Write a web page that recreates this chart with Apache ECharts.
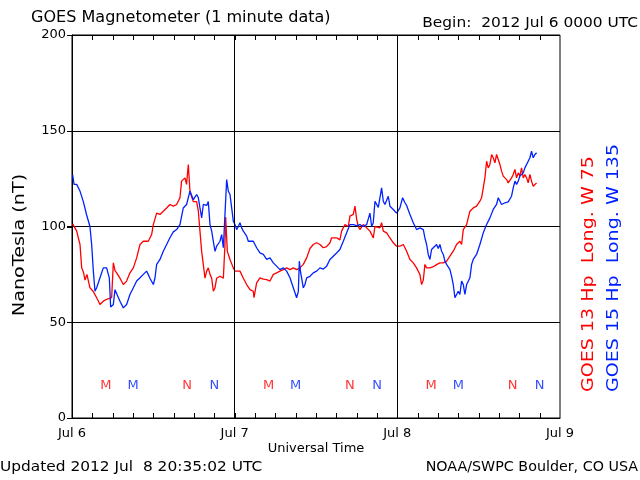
<!DOCTYPE html>
<html>
<head>
<meta charset="utf-8">
<script src="https://cdn.jsdelivr.net/npm/echarts@6/dist/echarts.min.js"></script>
<style>html,body{margin:0;padding:0;background:#fff}#c{width:640px;height:480px}</style>
</head>
<body>
<div id="c"></div>
<script>
// Hours since 2012 Jul 6 00:00 UTC, values in nT
var goes13 = [
[0.1,101.4],[0.69,97.6],[1.18,90.6],[1.43,78.4],[1.7,76],[1.92,72],[2.2,75],[2.65,68],[3.15,66],[3.64,62.8],[4.13,59.3],[4.62,61],[5.11,62],[5.85,62.8],[6.1,81],[6.35,77],[6.59,75.8],[7.08,73],[7.57,69.7],[8.06,71.5],[8.55,75.8],[9.05,78.4],[9.54,83.6],[10.03,90.6],[10.52,92.3],[11.26,92.3],[11.75,95.8],[12.0,101],[12.49,107],[12.98,106.3],[13.47,108],[13.96,109.7],[14.45,111.5],[14.95,110.6],[15.44,111.5],[15.93,115],[16.17,123.7],[16.67,125.4],[16.9,122],[17.16,132.4],[17.41,118],
[17.9,113],[18.39,113],[18.64,108],[18.88,97.6],[19.13,87],[19.38,80],[19.62,73],[19.87,76.7],[20.11,78.4],[20.36,75],[20.61,73],[20.85,66.2],[21.1,68],[21.34,73],[21.83,74],[22.33,73],[22.57,90.6],[22.67,105],[22.92,87],[23.31,82.8],[23.8,78.4],[24.05,76.7],[24.29,75.8],[24.78,76.7],[25.28,73],[25.77,69.7],[26.26,67],[26.75,66.2],[26.85,62.8],[27.24,70.6],[27.73,73.2],[28.23,72.5],[28.72,72.3],[29.21,71.5],[29.7,75],[30.19,75.8],[30.68,76.7],[31.18,77.5],[31.67,78.4],[32.16,77.5],[32.65,78.4],[33.14,77.5],[33.63,78.4],[34.13,80.2],[34.62,83.6],[35.11,88.5],
[35.6,90.6],[36.09,91.5],[36.58,90.6],[37.08,88.9],[37.57,89.5],[38.06,91.5],[38.31,94.1],[39.04,94.1],[39.53,93],[39.78,97.6],[40.27,101],[40.76,100],[41.01,105.4],[41.5,106.3],[41.75,110.6],[41.99,104],[42.24,100],[42.48,98.4],[42.98,101],[43.47,99.3],[43.96,97.6],[44.21,95.8],[44.45,94],[44.7,100],[44.94,101],[45.43,99.3],[45.68,102],[45.93,97.6],[46.42,96.7],[46.91,94],[47.4,91.5],[47.89,89.7],[48.38,89.7],[48.88,90.6],[49.37,87.1],[49.86,82.8],[50.35,81],[50.84,78.4],[51.33,74.9],[51.58,69.7],[51.83,72],[52.07,80.2],[52.32,78.4],[52.81,78.4],
[53.3,79],[53.79,80.1],[54.28,81],[54.78,81],[55.27,81.9],[55.76,84.5],[56.25,87.1],[56.74,90.6],[57.23,92.3],[57.48,90.6],[57.73,98.4],[58.22,101],[58.46,104.5],[58.71,108],[59.2,109.7],[59.69,110.6],[60.18,113.2],[60.43,115],[60.68,120.2],[60.92,125.4],[61.17,134.1],[61.41,130.6],[61.66,132.4],[61.91,137.6],[62.15,135.9],[62.4,133.2],[62.64,137.6],[62.89,135],[63.13,132.4],[63.38,128.9],[63.63,126.3],[63.87,125.4],[64.12,124.5],[64.36,122.8],[64.61,123.7],[64.85,125.4],[65.1,127.2],[65.35,129.8],[65.59,125.4],[65.84,128],[66.08,126.3],[66.33,130.6],[66.58,125.4],[66.82,127.2],[67.07,125.4],[67.31,122.8],[67.56,127.2],[67.8,123.7],[68.05,121],[68.3,120.2],[68.54,122.8]
];
var goes15 = [
[0.1,127],[0.3,122],[0.69,122],[1.18,118.5],[1.67,113],[2.16,106],[2.65,100],[2.9,90.6],[3.15,76.7],[3.39,66.2],[3.64,68],[4.13,73.2],[4.62,78.4],[5.11,78.4],[5.51,73],[5.7,58],[6.1,59.3],[6.34,67],[6.59,66.2],[7.08,61],[7.57,57.5],[8.06,59.3],[8.55,64.5],[9.05,68],[9.54,71.5],[10.03,73.2],[10.52,75],[11.01,76.7],[11.5,73],[12.0,69.7],[12.24,73],[12.49,80.2],[12.98,82.8],[13.47,87.1],[13.96,90.6],[14.45,94.1],[14.95,97.2],[15.44,98.4],[15.93,101],[16.42,109.7],[16.91,111.5],[17.4,118.5],
[17.9,114],[18.39,116.7],[18.64,115],[18.88,109.7],[19.13,104.5],[19.38,111.5],[19.87,111],[20.11,113],[20.36,101],[20.61,97.6],[20.85,92.3],[21.1,87],[21.34,89.7],[21.83,92.3],[22.08,95.8],[22.33,88.9],[22.57,88],[22.82,124.5],[23.06,118.5],[23.31,116.7],[23.56,109.7],[23.8,102.8],[24.05,101],[24.29,98.4],[24.54,100],[24.78,102],[25.03,99.3],[25.28,97.6],[25.77,95],[26.01,92.3],[26.26,91.5],[26.75,92.3],[27.24,88.9],[27.73,86.2],[28.23,85.4],[28.72,82.8],[29.21,83.6],[29.7,81],[30.19,79.3],[30.68,77.5],[31.18,78.4],[31.67,76.7],[32.16,73.2],[32.65,68],[33.14,62.8],[33.39,66],[33.54,81.9],[33.73,76],[34.13,68],[34.37,69.7],[34.62,73.2],[35.11,74],
[35.6,75.8],[36.09,76.7],[36.58,78.4],[37.08,77.8],[37.57,79.3],[38.06,82.8],[38.55,84.5],[39.04,86.2],[39.53,88],[40.03,92.3],[40.52,96.7],[41.01,101],[41.5,101],[41.99,100.5],[42.48,101],[42.98,100],[43.47,101],[43.96,107],[44.21,100],[44.45,102],[44.7,113.2],[44.94,112.4],[45.19,110],[45.43,115],[45.68,120.2],[45.93,113.2],[46.17,111.5],[46.42,112.4],[46.66,115.8],[46.91,110.6],[47.4,108.9],[47.89,107],[48.14,108],[48.38,109.7],[48.78,115],[49.12,112.4],[49.37,111],[49.86,106.3],[50.35,102],[50.84,98.4],[51.33,99.3],[51.83,98.4],[52.07,94],[52.32,90.6],[52.56,85.4],[52.81,82.8],[53.05,88],
[53.3,87],[53.79,90.6],[54.04,88.5],[54.28,90.6],[54.53,87.1],[54.78,85.4],[55.02,81.9],[55.27,80.2],[55.76,77.5],[56.01,74],[56.25,69.7],[56.5,62.8],[56.74,63.6],[56.99,66.2],[57.23,64.5],[57.48,71.5],[57.73,69.7],[57.97,64.5],[58.22,69.7],[58.46,69],[58.71,73.2],[58.96,80.2],[59.2,82.8],[59.69,85.4],[60.18,90.6],[60.68,96.7],[61.17,101],[61.66,104.5],[62.15,108.9],[62.64,111.5],[62.89,115],[63.13,114],[63.38,111.5],[63.63,110.6],[63.87,112.4],[64.36,112.9],[64.85,115.8],[65.1,120.2],[65.35,123.7],[65.59,122],[65.84,123.7],[66.08,126.3],[66.33,125.4],[66.58,128],[66.82,130.6],[67.07,131.5],[67.31,134.1],[67.56,135.9],[67.8,139.3],[68.05,135.9],[68.3,137.6],[68.54,138.5]
];
// Local midnight (M) and noon (N) markers, hours
var markers13 = [[5, 'M'], [17, 'N'], [29, 'M'], [41, 'N'], [53, 'M'], [65, 'N']];
var markers15 = [[9, 'M'], [21, 'N'], [33, 'M'], [45, 'N'], [57, 'M'], [69, 'N']];
var markerLevel = 17;
var xTickLabels = ['Jul 6', 'Jul 7', 'Jul 8', 'Jul 9'];
var dayLines = [24, 48];
var yTicks = [0, 50, 100, 150, 200];
var minorTickStep = 3; // hours between small inner ticks
var hourTicks = [];
for (var t = minorTickStep; t < 72; t += minorTickStep) hourTicks.push(t);

var RED = '#ff0000', BLUE = '#0022ff';
var FONT = 'DejaVu Sans';
var chart = echarts.init(document.getElementById('c'), null, {renderer: 'canvas'});

function markerSeries(list, color) {
  return {
    type: 'scatter', xAxisIndex: 0, yAxisIndex: 0, symbolSize: 0, silent: true,
    data: list.map(function (m) { return {value: [m[0], markerLevel], name: m[1]}; }),
    label: {show: true, position: 'inside', formatter: function (p) { return p.name; },
      color: color, fontFamily: FONT, fontSize: 13},
    z: 3
  };
}
function seg(x1, y1, x2, y2) {
  return {type: 'line', shape: {x1: x1, y1: y1, x2: x2, y2: y2}, style: {stroke: '#000', lineWidth: 1}};
}

chart.setOption({
  animation: false,
  backgroundColor: '#fff',
  grid: {left: 72, right: 80, top: 35, bottom: 62, show: true, borderColor: '#000', borderWidth: 1, backgroundColor: 'transparent'},
  xAxis: [{
    type: 'value', min: 0, max: 72, interval: 24, position: 'bottom',
    axisLine: {show: true, onZero: false, lineStyle: {color: '#000', width: 1}},
    axisTick: {show: false},
    splitLine: {show: false},
    axisLabel: {color: '#000', fontFamily: FONT, fontSize: 13, margin: 9,
      formatter: function (v) { return xTickLabels[Math.round(v / 24)]; }}
  }],
  yAxis: [{
    type: 'value', min: yTicks[0], max: yTicks[yTicks.length - 1], interval: 50,
    axisLine: {show: true, lineStyle: {color: '#000'}},
    axisTick: {show: true, inside: false, length: 5, lineStyle: {color: '#000'}},
    splitLine: {show: true, lineStyle: {color: '#000', width: 1}},
    axisLabel: {color: '#000', fontFamily: FONT, fontSize: 13, margin: 6}
  }],
  series: [
    {type: 'line', data: goes13, showSymbol: false, lineStyle: {color: RED, width: 1.3}, itemStyle: {color: RED}, z: 2,
     markLine: {silent: true, symbol: ['none', 'none'], label: {show: false}, animation: false,
       lineStyle: {color: '#000', width: 1, type: 'solid'},
       data: dayLines.map(function (d) { return {xAxis: d}; })}},
    {type: 'line', data: goes15, showSymbol: false, lineStyle: {color: BLUE, width: 1.3}, itemStyle: {color: BLUE}, z: 2},
    markerSeries(markers13, RED),
    markerSeries(markers15, BLUE),
    {type: 'custom', silent: true, z: 4, clip: false,
     data: hourTicks.map(function (h) { return [h, yTicks[0]]; }),
     encode: {x: 0, y: 1},
     renderItem: function (params, api) {
       var b = api.coord([api.value(0), yTicks[0]]);
       var t = api.coord([api.value(0), yTicks[yTicks.length - 1]]);
       var x = Math.round(b[0]) + 0.5;
       return {type: 'group', children: [seg(x, b[1], x, b[1] - 5), seg(x, t[1], x, t[1] + 5)]};
     }},
    {type: 'custom', silent: true, z: 4, clip: false,
     data: yTicks.map(function (v) { return [0, v]; }),
     encode: {x: 0, y: 1},
     renderItem: function (params, api) {
       var p = api.coord([0, api.value(1)]);
       var y = Math.round(p[1]) + 0.5;
       return seg(p[0] - 5, y, p[0], y);
     }}
  ],
  graphic: [
    {type: 'text', x: 31, y: 18, scaleX: 1.07, style: {text: 'GOES Magnetometer (1 minute data)', fill: '#000', font: '15px ' + FONT, align: 'left', verticalAlign: 'middle'}},
    {type: 'text', x: 638, y: 23, scaleX: 1.1, style: {text: 'Begin:  2012 Jul 6 0000 UTC', fill: '#000', font: '14px ' + FONT, align: 'right', verticalAlign: 'middle'}},
    {type: 'text', x: 316, y: 449, style: {text: 'Universal Time', fill: '#000', font: '13px ' + FONT, align: 'center', verticalAlign: 'middle'}},
    {type: 'text', x: 0, y: 467, scaleX: 1.1, style: {text: 'Updated 2012 Jul  8 20:35:02 UTC', fill: '#000', font: '14px ' + FONT, align: 'left', verticalAlign: 'middle'}},
    {type: 'text', x: 638, y: 467, scaleX: 1.02, style: {text: 'NOAA/SWPC Boulder, CO USA', fill: '#000', font: '14px ' + FONT, align: 'right', verticalAlign: 'middle'}},
    {type: 'text', x: 20, y: 245, rotation: Math.PI / 2, scaleX: 1.2, style: {text: 'NanoTesla (nT)', fill: '#000', font: '16px ' + FONT, align: 'center', verticalAlign: 'middle'}},
    {type: 'text', x: 589, y: 392, rotation: Math.PI / 2, scaleX: 1.19, style: {text: 'GOES 13 Hp  Long. W 75', fill: RED, font: '16px ' + FONT, align: 'left', verticalAlign: 'middle'}},
    {type: 'text', x: 614, y: 392, rotation: Math.PI / 2, scaleX: 1.19, style: {text: 'GOES 15 Hp  Long. W 135', fill: BLUE, font: '16px ' + FONT, align: 'left', verticalAlign: 'middle'}}
  ]
});
</script>
</body>
</html>
